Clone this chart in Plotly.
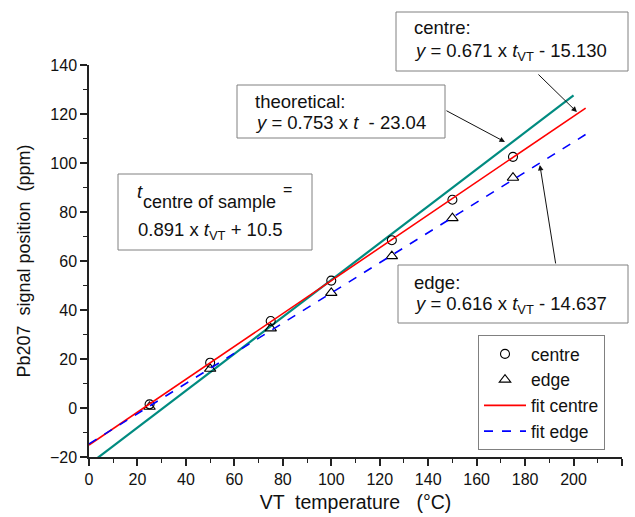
import plotly.graph_objects as go

# ---------------- data ----------------
temp_vt = [25, 50, 75, 100, 125, 150, 175]
centre_ppm = [1.5, 18.5, 35.5, 52.0, 68.5, 85.0, 102.5]
edge_ppm = [0.5, 16.0, 32.5, 47.0, 62.0, 77.5, 94.0]

fit_x = [0, 205]
fit_centre_y = [-15.13, 122.43]      # y = 0.671 x t_VT - 15.130
fit_edge_y = [-14.637, 111.643]      # y = 0.616 x t_VT - 14.637
theo_x = [0, 200]
theo_y = [-23.04, 127.56]            # y = 0.753 x t - 23.04

x_ticks = [0, 20, 40, 60, 80, 100, 120, 140, 160, 180, 200, 220]
y_ticks = [-20, 0, 20, 40, 60, 80, 100, 120, 140]

FONT = "Liberation Sans, Arial, sans-serif"
TXT = 18.5

# plot area in pixels
L, R, T, B = 89, 622, 65, 457
W, H = 635, 517


def px(xp):
    return (xp - L) / (R - L)


def py(yp):
    return (B - yp) / (B - T)


fig = go.Figure()

fig.add_trace(go.Scatter(x=theo_x, y=theo_y, mode="lines",
                         line=dict(color="#008b80", width=2.2),
                         showlegend=False, hoverinfo="skip"))
fig.add_trace(go.Scatter(x=temp_vt, y=centre_ppm, mode="markers", name="centre",
                         marker=dict(symbol="circle-open", size=9,
                                     color="black", line=dict(width=1.1))))
fig.add_trace(go.Scatter(x=temp_vt, y=edge_ppm, mode="markers", name="edge",
                         marker=dict(symbol="triangle-up-open", size=10,
                                     color="black", line=dict(width=1.1))))
fig.add_trace(go.Scatter(x=fit_x, y=fit_centre_y, mode="lines", name="fit centre",
                         line=dict(color="#ff0000", width=1.6)))
fig.add_trace(go.Scatter(x=fit_x, y=fit_edge_y, mode="lines", name="fit edge",
                         line=dict(color="#0000ff", width=1.6, dash="dash")))

axis_common = dict(
    showline=True, linecolor="#222", linewidth=1.5, mirror=False,
    ticks="outside", ticklen=7, tickwidth=1.5, tickcolor="#222",
    showgrid=False, zeroline=False,
    tickfont=dict(family=FONT, size=16, color="#111"),
    minor=dict(ticks="outside", ticklen=4, tickwidth=1.2, tickcolor="#222", dtick=10),
)

fig.update_layout(
    width=W, height=H,
    margin=dict(l=L, r=W - R, t=T, b=H - B, autoexpand=False),
    paper_bgcolor="white", plot_bgcolor="white",
    font=dict(family=FONT, color="#111"),
    xaxis=dict(range=[0, 220], tickvals=x_ticks, **axis_common,
               title=dict(text="VT  temperature   (°C)",
                          font=dict(family=FONT, size=19.5), standoff=8)),
    yaxis=dict(range=[-20, 140], tickvals=y_ticks, **axis_common,
               title=dict(text="Pb207  signal position  (ppm)",
                          font=dict(family=FONT, size=18), standoff=15)),
    legend=dict(x=px(478), y=py(335), xanchor="left", yanchor="top",
                bordercolor="#808080", borderwidth=1, bgcolor="white",
                font=dict(family=FONT, size=17.5), itemwidth=42,
                tracegroupgap=0),
)

# text boxes
boxes = [(396, 12, 628, 71), (237, 85, 445, 138), (118, 174, 312, 250), (398, 265, 628, 323)]
for x0, y0, x1, y1 in boxes:
    fig.add_shape(type="rect", xref="paper", yref="paper",
                  x0=px(x0), x1=px(x1), y0=py(y1), y1=py(y0),
                  line=dict(color="#808080", width=1), fillcolor="white", layer="above")

texts = [
    (412, 28, "centre:", TXT),
    (412, 52, "<i>y</i> = 0.671 x <i>t</i><sub>VT</sub> - 15.130", TXT),
    (253, 101, "theoretical:", TXT),
    (253, 122, "<i>y</i> = 0.753 x <i>t</i>  - 23.04", TXT),
    (135, 191, "<i>t</i>", TXT),
    (141, 202, "centre of sample", 18),
    (281, 189, "=", 16),
    (136, 231, "0.891 x <i>t</i><sub>VT</sub> + 10.5", TXT),
    (412, 282, "edge:", TXT),
    (412, 305, "<i>y</i> = 0.616 x <i>t</i><sub>VT</sub> - 14.637", TXT),
]
for xp, yp, t, fs in texts:
    fig.add_annotation(xref="paper", yref="paper", x=px(xp), y=py(yp),
                       xanchor="left", yanchor="middle", text=t, showarrow=False,
                       font=dict(family=FONT, size=fs, color="#111"), align="left")

# arrows (head at line, tail offset in pixels)
arrows = [(201.4, 120.8, -40, -39), (171.7, 108.6, -60, -32), (186.1, 99.2, 16, 100)]
for xa, ya, axo, ayo in arrows:
    fig.add_annotation(x=xa, y=ya, xref="x", yref="y", ax=axo, ay=ayo,
                       text="", showarrow=True, arrowhead=2, arrowsize=1.1,
                       arrowwidth=1, arrowcolor="#111")

fig.write_html("out.html")
